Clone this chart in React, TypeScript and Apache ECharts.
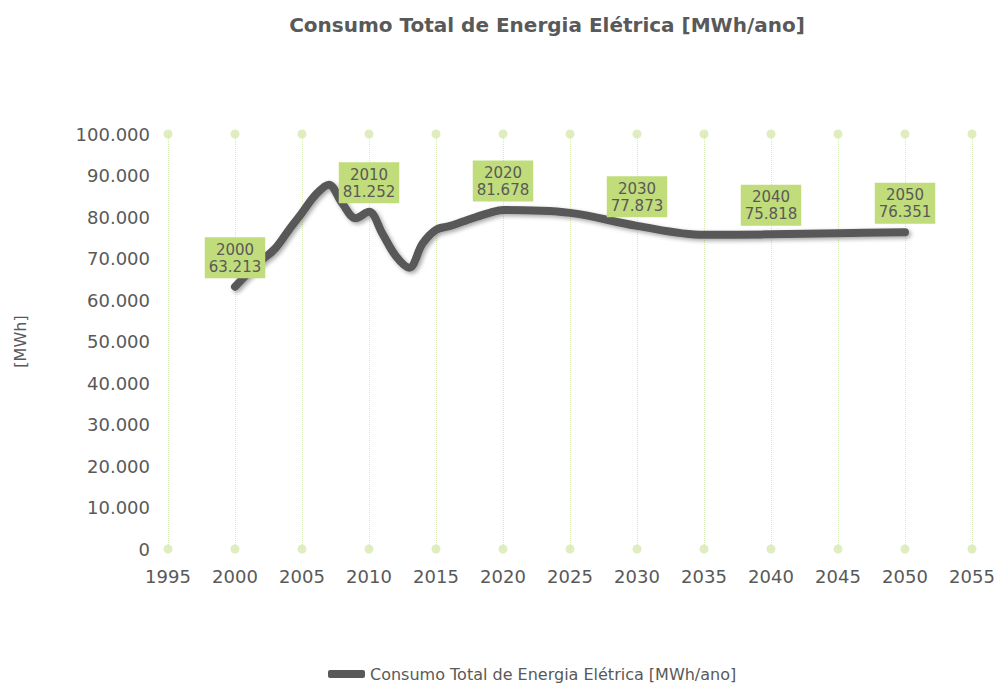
import React, { useEffect, useRef } from "react";
import * as echarts from "echarts";

const years = [2000, 2001, 2002, 2003, 2004, 2005, 2006, 2007, 2008, 2009, 2010, 2011, 2012, 2013, 2014, 2015, 2016, 2017, 2018, 2019, 2020, 2025, 2030, 2035, 2040, 2045, 2050];
const consumo = [63213, 66500, 69600, 72400, 76800, 81000, 85300, 87800, 83300, 79700, 81252, 76000, 70600, 67800, 73600, 76900, 77800, 78900, 80000, 81000, 81678, 81000, 77873, 75700, 75818, 76100, 76351];
const labelledYears = [2000, 2010, 2020, 2030, 2040, 2050];
const xTicks = [1995, 2000, 2005, 2010, 2015, 2020, 2025, 2030, 2035, 2040, 2045, 2050, 2055];
const yMin = 0;
const yMax = 100000;

const TITLE = "Consumo Total de Energia Elétrica [MWh/ano]";
const SERIES_NAME = "Consumo Total de Energia Elétrica [MWh/ano]";
const Y_NAME = "[MWh]";

const fmt = (v: number) => String(Math.round(v)).replace(/\B(?=(\d{3})+(?!\d))/g, ".");

const FONT = "DejaVu Sans";
const TXT = "#595959";

export default function App() {
  const ref = useRef<HTMLDivElement>(null);
  useEffect(() => {
    if (!ref.current) return;
    const chart = echarts.init(ref.current, null, { renderer: "svg" });
    const lineData = years.map((y, i) => {
      const item: any = { value: [y, consumo[i]] };
      if (labelledYears.includes(y)) {
        item.label = { show: true };
      }
      return item;
    });
    const dots: number[][] = [];
    xTicks.forEach((x) => {
      dots.push([x, yMin]);
      dots.push([x, yMax]);
    });
    chart.setOption({
      animation: false,
      textStyle: { fontFamily: FONT },
      title: {
        text: TITLE,
        left: 542,
        textAlign: "center",
        top: 10,
        textStyle: { fontFamily: FONT, fontSize: 20, fontWeight: "bold", color: TXT },
      },
      legend: {
        left: 328,
        top: 666,
        itemWidth: 37,
        itemHeight: 8,
        icon: "roundRect",
        data: [{ name: SERIES_NAME, itemStyle: { color: "#595959" } }],
        textStyle: { fontFamily: FONT, fontSize: 16, color: TXT },
        padding: 0,
      },
      grid: { left: 168, right: 27, top: 134, bottom: 135 },
      xAxis: {
        type: "value",
        min: 1995,
        max: 2055,
        interval: 5,
        axisLine: { show: false },
        axisTick: { show: false },
        axisLabel: { fontFamily: FONT, fontSize: 18, color: TXT, margin: 18, formatter: (v: number) => String(v) },
        splitLine: { show: true, lineStyle: { type: "dotted", color: "#d9e8b9", width: 1 } },
      },
      yAxis: {
        type: "value",
        min: yMin,
        max: yMax,
        interval: 10000,
        name: Y_NAME,
        nameLocation: "middle",
        nameRotate: 90,
        nameGap: 140,
        nameTextStyle: { fontFamily: FONT, fontSize: 16, color: TXT },
        axisLine: { show: false },
        axisTick: { show: false },
        splitLine: { show: false },
        axisLabel: { fontFamily: FONT, fontSize: 18, color: TXT, margin: 18, formatter: (v: number) => fmt(v) },
      },
      series: [
        {
          type: "scatter",
          data: dots,
          symbolSize: 9,
          itemStyle: { color: "#d7e8b1" },
          silent: true,
          clip: false,
          z: 1,
        },
        {
          name: SERIES_NAME,
          type: "line",
          data: lineData,
          smooth: 0.35,
          showSymbol: true,
          symbol: "circle",
          symbolSize: 1,
          itemStyle: { color: "rgba(0,0,0,0)" },
          lineStyle: {
            color: "#595959",
            width: 8,
            cap: "round",
            join: "round",
            shadowColor: "rgba(0,0,0,0.35)",
            shadowBlur: 4,
            shadowOffsetX: 2,
            shadowOffsetY: 2,
          },
          label: {
            show: false,
            position: "top",
            distance: 8,
            backgroundColor: "#c1dc7b",
            color: TXT,
            fontFamily: FONT,
            fontSize: 15,
            lineHeight: 17,
            padding: [4, 4, 3, 4],
            align: "center",
            formatter: (p: any) => `${p.value[0]}\n${fmt(p.value[1])}`,
          },
          z: 3,
        },
      ],
    });
    return () => chart.dispose();
  }, []);
  return <div ref={ref} style={{ width: 999, height: 684, position: "absolute", left: 0, top: 0 }} />;
}
